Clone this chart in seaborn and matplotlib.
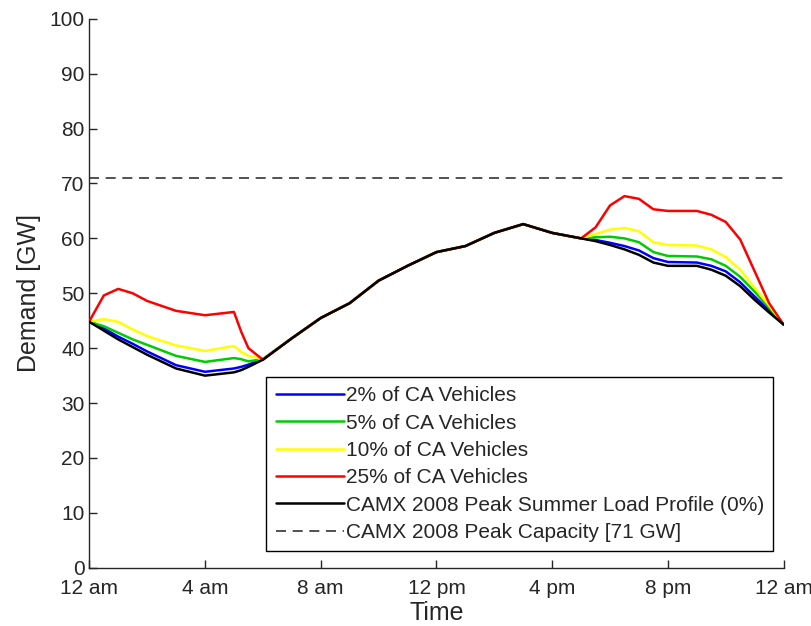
import matplotlib
matplotlib.use("Agg")
import matplotlib.pyplot as plt
import seaborn as sns
import pandas as pd

# hours after midnight
hours = [0, 0.5, 1, 1.5, 2, 3, 4, 5, 5.25, 5.5, 6, 7, 8, 9, 10, 11, 12, 13, 14, 15,
         16, 17, 17.5, 18, 18.5, 19, 19.5, 20, 21, 21.5, 22, 22.5, 23, 23.5, 24]

# demand [GW]
base = [44.8, 43.2, 41.6, 40.2, 38.8, 36.3, 35.0, 35.6, 36.0, 36.6, 37.9, 41.8, 45.5, 48.2,
        52.3, 55.0, 57.5, 58.6, 61.0, 62.6, 61.0, 60.0, 59.5, 58.8, 58.0, 57.0, 55.6, 55.0,
        55.0, 54.3, 53.2, 51.3, 48.8, 46.5, 44.3]
ev2 = [44.8, 43.6, 42.1, 40.8, 39.4, 36.9, 35.7, 36.3, 36.6, 37.0, 38.0, 41.8, 45.5, 48.2,
       52.3, 55.0, 57.5, 58.6, 61.0, 62.6, 61.0, 60.0, 59.7, 59.2, 58.6, 57.8, 56.4, 55.7,
       55.6, 55.0, 54.0, 52.0, 49.4, 46.9, 44.3]
ev5 = [44.8, 44.0, 42.8, 41.6, 40.6, 38.6, 37.5, 38.2, 38.0, 37.6, 38.0, 41.8, 45.5, 48.2,
       52.3, 55.0, 57.5, 58.6, 61.0, 62.6, 61.0, 60.0, 60.2, 60.3, 60.0, 59.3, 57.5, 56.8,
       56.7, 56.2, 55.0, 53.0, 50.3, 47.4, 44.3]
ev10 = [44.8, 45.3, 44.8, 43.4, 42.2, 40.5, 39.5, 40.4, 39.3, 38.6, 38.0, 41.8, 45.5, 48.2,
        52.3, 55.0, 57.5, 58.6, 61.0, 62.6, 61.0, 60.0, 60.8, 61.6, 61.9, 61.3, 59.3, 58.8,
        58.7, 58.0, 56.6, 54.3, 51.0, 47.8, 44.3]
ev25 = [44.9, 49.6, 50.8, 50.0, 48.6, 46.8, 46.0, 46.6, 43.0, 40.0, 37.9, 41.8, 45.5, 48.2,
        52.3, 55.0, 57.5, 58.6, 61.0, 62.6, 61.0, 60.0, 62.0, 66.0, 67.7, 67.2, 65.3, 65.0,
        65.0, 64.3, 63.0, 59.8, 54.0, 48.2, 44.3]
capacity = 71

tick_hours = [0, 4, 8, 12, 16, 20, 24]
tick_labels = ["12 am", "4 am", "8 am", "12 pm", "4 pm", "8 pm", "12 am"]

series = [
    ("2% of CA Vehicles", ev2, "#0000ff"),
    ("5% of CA Vehicles", ev5, "#00cc00"),
    ("10% of CA Vehicles", ev10, "#ffff00"),
    ("25% of CA Vehicles", ev25, "#ff0000"),
    ("CAMX 2008 Peak Summer Load Profile (0%)", base, "black"),
]

sns.set_style("ticks")
plt.rcParams["font.family"] = ["Liberation Sans", "DejaVu Sans"]

fig = plt.figure(figsize=(8.12, 6.26), dpi=100)
ax = fig.add_axes([0.11, 0.093, 0.855, 0.877])

# colored lines first so the base load sits on top
for order in [3, 2, 1, 0, 4]:
    name, vals, col = series[order]
    df = pd.DataFrame({"Time": hours, "Demand": vals})
    sns.lineplot(data=df, x="Time", y="Demand", color=col, linewidth=1.8,
                 label=name, ax=ax, zorder=2 + order)

ax.axhline(capacity, color="#333333", linestyle=(0, (6, 4)), linewidth=1.2,
           label="CAMX 2008 Peak Capacity [71 GW]")

handles, labels = ax.get_legend_handles_labels()
lookup = dict(zip(labels, handles))
order_names = [s[0] for s in series] + ["CAMX 2008 Peak Capacity [71 GW]"]
leg = ax.legend([lookup[n] for n in order_names], order_names, loc="lower right",
                bbox_to_anchor=(0.985, 0.03), fontsize=15, handlelength=3.3,
                handletextpad=0.05, labelspacing=0.4, borderpad=0.45, borderaxespad=0,
                frameon=True, fancybox=False, edgecolor="black", framealpha=1)
leg.get_frame().set_linewidth(1.0)

ax.set_xlim(0, 24)
ax.set_ylim(0, 100)
ax.set_xticks(tick_hours)
ax.set_xticklabels(tick_labels)
ax.set_yticks(range(0, 101, 10))
ax.tick_params(direction="in", length=6, labelsize=15, width=1)
ax.tick_params(axis="x", pad=8)
ax.set_xlabel("Time", fontsize=18, labelpad=2)
ax.set_ylabel("Demand [GW]", fontsize=18, labelpad=6)
sns.despine(ax=ax)
for sp in ["left", "bottom"]:
    ax.spines[sp].set_linewidth(1.0)

fig.savefig("out.png", dpi=100)
